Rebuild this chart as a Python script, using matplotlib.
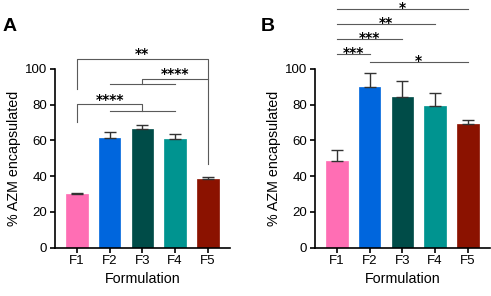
import numpy as np
import matplotlib.pyplot as plt

plt.rcParams['font.family'] = ['Liberation Sans', 'DejaVu Sans']

formulations = ['F1', 'F2', 'F3', 'F4', 'F5']
colors = ['#FF6EB4', '#0066DD', '#004C48', '#009490', '#8B1200']

# panel A
mean_a = [30.0, 61.5, 66.5, 61.0, 38.5]
err_a = [0.7, 3.5, 2.0, 2.5, 1.0]
# panel B
mean_b = [48.5, 90.0, 84.5, 79.5, 69.0]
err_b = [6.0, 7.5, 9.0, 7.0, 2.5]

# brackets in B: (x1, x2, height, label)
sig_b = [(1, 5, 133.4, '*'), (1, 4, 125.0, '**'), (1, 3, 116.6, '***'),
         (1, 2, 108.4, '***'), (2, 5, 104.1, '*')]

LINE = '#5a5a5a'


def draw_bars(ax, means, errs):
    x = np.arange(1, len(means) + 1)
    ax.bar(x, means, width=0.66, color=colors, edgecolor=colors, linewidth=0.5, zorder=2)
    ax.errorbar(x, means, yerr=[np.zeros(len(errs)), errs], fmt='none', ecolor='#333333',
                elinewidth=1.0, capsize=4, capthick=1.0, zorder=3)
    ax.set_xlim(0.33, 5.67)
    ax.set_ylim(0, 100)
    ax.set_yticks([0, 20, 40, 60, 80, 100])
    ax.set_xticks(x)
    ax.set_xticklabels(formulations)
    for s in ['top', 'right']:
        ax.spines[s].set_visible(False)
    for s in ['left', 'bottom']:
        ax.spines[s].set_linewidth(1.2)
    ax.tick_params(width=1.2, length=3.5, labelsize=9.5, pad=2)
    ax.set_xlabel('Formulation', fontsize=10.3, labelpad=3)
    ax.set_ylabel('% AZM encapsulated', fontsize=10.3, labelpad=3)


def line(ax, xs, ys):
    ax.plot(xs, ys, color=LINE, lw=0.8, clip_on=False, zorder=1)


def stars(ax, x, y, s, gap_px):
    # star glyph centre sits about 8 px above the baseline at 10 pt
    ax.annotate(s, (x, y), xytext=(0, (gap_px - 8) * 0.72), textcoords='offset points',
                ha='center', va='baseline', fontsize=10, family='DejaVu Sans',
                fontweight='bold', annotation_clip=False)


fig = plt.figure(figsize=(4.91, 2.96), dpi=100)
ax1 = fig.add_axes([0.112, 0.163, 0.356, 0.604])
ax2 = fig.add_axes([0.6415, 0.163, 0.356, 0.604])

draw_bars(ax1, mean_a, err_a)
draw_bars(ax2, mean_b, err_b)

# panel A brackets
line(ax1, [1, 1, 5, 5], [89, 105.4, 105.4, 47])
stars(ax1, 3, 105.4, '**', 9)
line(ax1, [2, 4], [91.6, 91.6])
line(ax1, [3, 3, 5], [91.6, 94.4, 94.4])
stars(ax1, 4, 94.4, '****', 8.5)
line(ax1, [2, 4], [76.5, 76.5])
line(ax1, [1, 1, 3, 3], [70.5, 80.2, 80.2, 76.5])
stars(ax1, 2, 80.2, '****', 8.5)

# panel B lines
for x1, x2, h, s in sig_b:
    line(ax2, [x1, x2], [h, h])
    stars(ax2, (x1 + x2) / 2, h, s, 5)

fig.text(0.006, 0.91, 'A', fontsize=14, fontweight='bold', va='center')
fig.text(0.532, 0.91, 'B', fontsize=14, fontweight='bold', va='center')

fig.savefig('out.png', dpi=100)
